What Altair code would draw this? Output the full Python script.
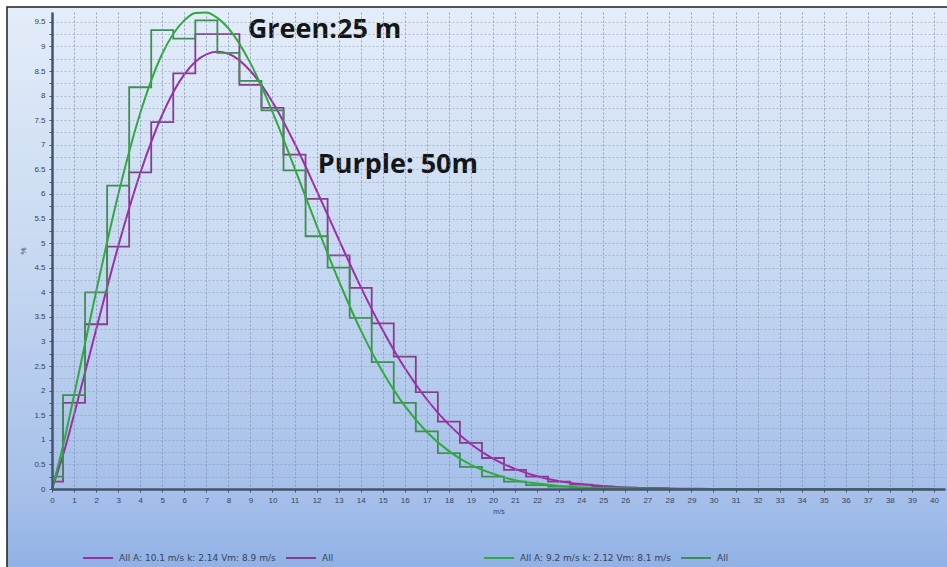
import altair as alt
import pandas as pd

# ---------------- data ----------------
bin_centers = list(range(0, 29))  # m/s, histogram bins of width 1
purple_hist = [0.15, 1.75, 3.35, 4.93, 6.44, 7.46, 8.45, 9.25, 9.25, 8.22, 7.75, 6.80, 5.90, 4.75,
               4.09, 3.37, 2.69, 1.97, 1.37, 0.94, 0.63, 0.39, 0.25, 0.15, 0.09, 0.05, 0.03, 0.02, 0.01]
green_hist = [0.25, 1.91, 4.00, 6.17, 8.17, 9.33, 9.16, 9.53, 8.87, 8.30, 7.70, 6.48, 5.14, 4.50,
              3.48, 2.58, 1.75, 1.17, 0.73, 0.45, 0.25, 0.15, 0.08, 0.05, 0.03, 0.02, 0.01, 0.01, 0.005]

curve_x = [0, 0.5, 1, 2, 3, 4, 5, 6, 6.5, 7, 7.5, 8,
           9, 10, 11, 12, 13, 14, 15, 16, 17, 18, 19, 20, 21, 22, 23, 24, 25, 26, 27, 28, 29,
           30, 31, 32, 33, 34, 35, 36, 37, 38, 39, 40]
purple_curve = [0, 0.69, 1.51, 3.24, 4.93, 6.42, 7.61, 8.43, 8.69, 8.84, 8.89, 8.85,
                8.50, 7.87, 7.03, 6.07, 5.08, 4.11, 3.23, 2.46, 1.82, 1.31, 0.91, 0.62, 0.41, 0.26,
                0.16, 0.10, 0.06, 0.03, 0.02, 0.01, 0.005,
                0, 0, 0, 0, 0, 0, 0, 0, 0, 0, 0]
green_curve = [0, 0.88, 1.90, 4.01, 5.98, 7.64, 8.85, 9.53, 9.68, 9.69, 9.58, 9.37,
               8.66, 7.67, 6.53, 5.36, 4.24, 3.23, 2.38, 1.69, 1.16, 0.77, 0.49, 0.31, 0.18, 0.11,
               0.06, 0.03, 0.02, 0.01, 0.005, 0, 0,
               0, 0, 0, 0, 0, 0, 0, 0, 0, 0, 0]

x_ticks = list(range(0, 41))
y_ticks = [i / 4 for i in range(0, 39)]

P_FIT = "All A: 10.1 m/s k: 2.14 Vm: 8.9 m/s"
P_HIST = "All"
G_FIT = "All A: 9.2 m/s k: 2.12 Vm: 8.1 m/s"
G_HIST = "All"

note_text = ["Green:25 m", "Purple: 50m"]
note_x = [8.88, 12.05]
note_y = [9.33, 6.59]

# ---------------- tables ----------------
ph = pd.DataFrame({"x": bin_centers, "y": purple_hist, "series": P_HIST})
pc = pd.DataFrame({"x": curve_x, "y": purple_curve, "series": P_FIT})
gh = pd.DataFrame({"x": bin_centers, "y": green_hist, "series": G_HIST})
gc = pd.DataFrame({"x": curve_x, "y": green_curve, "series": G_FIT})
notes = pd.DataFrame({"x": note_x, "y": note_y, "label": note_text})

W, H = 893, 477
FONT = "Liberation Sans"
LEG_FONT = "DejaVu Sans"

xs = alt.Scale(domain=[0, 40.5], nice=False, zero=False)
ys = alt.Scale(domain=[0, 9.7], nice=False)

x_axis = alt.Axis(values=x_ticks, format="d", title="m/s", labelFontSize=8, labelFont=FONT,
                  labelColor="#3a4252", titleFontSize=7, titleFont=FONT, titleFontWeight="normal",
                  titleColor="#3a4252", titlePadding=3, labelPadding=4, grid=True, gridDash=[2, 2],
                  gridColor="#7d8ea8", gridOpacity=0.75, gridWidth=1, domainColor="#44546c",
                  domainWidth=2.5, tickColor="#44546c", tickSize=3, labelFlush=False,
                  labelOverlap=False, zindex=1)
y_axis = alt.Axis(values=y_ticks, format="~g",
                  labelExpr="datum.value % 0.5 === 0 ? datum.label : ''",
                  title="%", labelFontSize=8, labelFont=FONT, labelColor="#3a4252",
                  titleFontSize=8, titleFont=FONT, titleFontWeight="normal", titleColor="#3a4252",
                  titlePadding=6, labelPadding=4, grid=True, gridDash=[2, 2], gridColor="#8494ad",
                  gridOpacity=0.5, gridWidth=1, domainColor="#44546c", domainWidth=2.5,
                  tickColor="#44546c", tickSize=3, labelOverlap=False, labelFlush=False, zindex=1)

PURPLE_FIT, PURPLE_HIST = "#9a2fa6", "#883c8c"
GREEN_FIT, GREEN_HIST = "#2faa3c", "#3b8f50"

leg_common = dict(orient="none", direction="horizontal", title=None, symbolType="stroke",
                  symbolSize=900, symbolStrokeWidth=2, labelFontSize=9, labelFont=LEG_FONT,
                  labelColor="#3a4252", labelOffset=5, columnPadding=6, legendY=530)

purple_scale = alt.Scale(domain=[P_FIT, P_HIST], range=[PURPLE_FIT, PURPLE_HIST])
green_scale = alt.Scale(domain=[G_FIT, G_HIST], range=[GREEN_FIT, GREEN_HIST])
purple_legend = alt.Legend(legendX=30, **leg_common)
green_legend = alt.Legend(legendX=431, **leg_common)

X = alt.X("x:Q", scale=xs, axis=x_axis)
Y = alt.Y("y:Q", scale=ys, axis=y_axis)

bg = alt.Chart(pd.DataFrame({"k": [0]})).mark_rect(
    fill=alt.LinearGradient(
        gradient="linear", x1=0, x2=0, y1=0, y2=1,
        stops=[alt.GradientStop(offset=0, color="#e4edf9"),
               alt.GradientStop(offset=0.45, color="#c6d8f1"),
               alt.GradientStop(offset=0.85, color="#a5bfea"),
               alt.GradientStop(offset=1, color="#8caee4")]),
    stroke="#1e1e1e", strokeWidth=1.5
).encode(x=alt.value(-45), x2=alt.value(W + 20), y=alt.value(-5), y2=alt.value(H + 95))

p_hist_layer = alt.Chart(ph).mark_line(interpolate="step", strokeWidth=1.8).encode(
    x=X, y=Y,
    color=alt.Color("series:N", scale=purple_scale, legend=purple_legend),
)
p_fit_layer = alt.Chart(pc).mark_line(interpolate="monotone", strokeWidth=2).encode(
    x=X, y=Y,
    color=alt.Color("series:N", scale=purple_scale, legend=purple_legend),
)
g_hist_layer = alt.Chart(gh).mark_line(interpolate="step", strokeWidth=1.8).encode(
    x=X, y=Y,
    stroke=alt.Stroke("series:N", scale=green_scale, legend=green_legend),
)
g_fit_layer = alt.Chart(gc).mark_line(interpolate="monotone", strokeWidth=2).encode(
    x=X, y=Y,
    stroke=alt.Stroke("series:N", scale=green_scale, legend=green_legend),
)
text_layer = alt.Chart(notes).mark_text(
    align="left", baseline="middle", font="Open Sans", fontWeight="bold", fontSize=27,
    color="#151515"
).encode(x=X, y=Y, text="label:N")

chart = alt.layer(bg, p_hist_layer, p_fit_layer, g_hist_layer, g_fit_layer, text_layer).properties(
    width=W, height=H,
    padding={"left": 52, "top": 12, "right": 2, "bottom": 78},
    autosize=alt.AutoSizeParams(type="none"),
    background="white",
).configure_view(strokeWidth=0)

chart.save("out.html", embed_options={"renderer": "svg", "actions": False})
